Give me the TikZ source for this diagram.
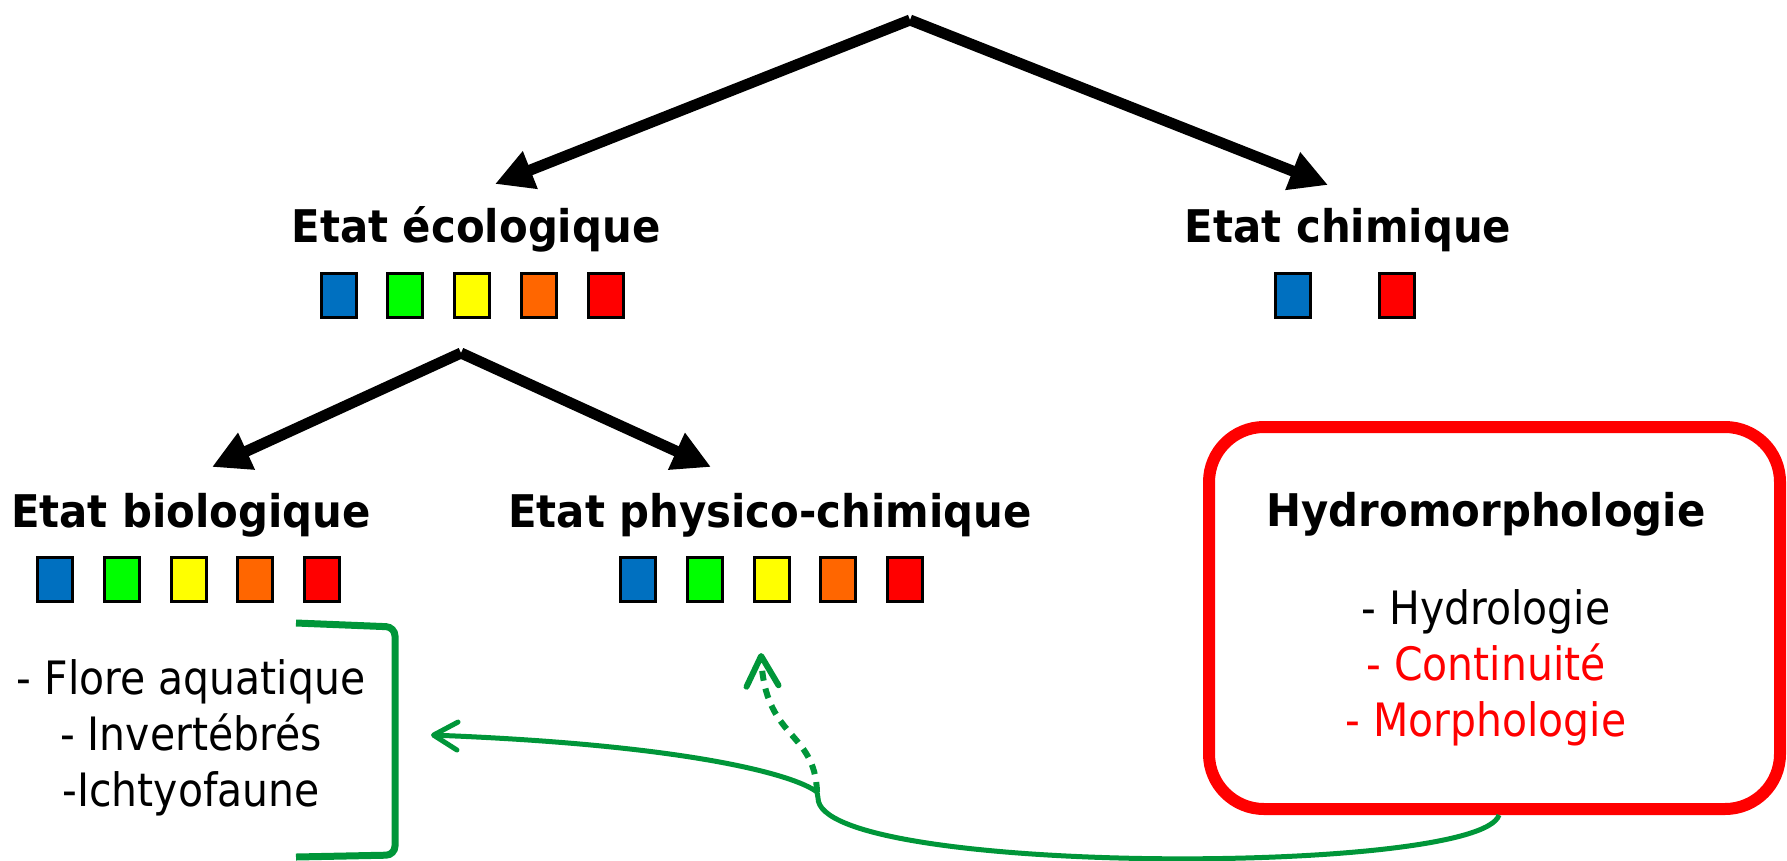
\documentclass[tikz,border=0pt]{standalone}
\usepackage{fontspec}
\setmainfont{DejaVu Sans}[FakeStretch=0.89]
\newfontfamily\hdfont{DejaVu Sans}[FakeStretch=0.93]
\usetikzlibrary{arrows.meta}
\definecolor{cblue}{HTML}{0070C0}
\definecolor{cgreen}{HTML}{00FF00}
\definecolor{cyellow}{HTML}{FFFF00}
\definecolor{corange}{HTML}{FF6600}
\definecolor{cred}{HTML}{FF0000}
\definecolor{dgreen}{RGB}{0,150,57}
\begin{document}
\begin{tikzpicture}[x=1pt,y=-1pt,
  title/.style={font=\hdfont\bfseries\fontsize{45}{50}\selectfont, anchor=base, inner sep=0pt},
  item/.style={font=\fontsize{46}{52}\selectfont, anchor=base, inner sep=0pt},
  sq/.style={draw=black, line width=3pt, minimum width=35pt, minimum height=44pt, inner sep=0pt, outer sep=0pt},
  bigarrow/.style={line width=11pt, -{Triangle[length=38pt,width=38pt]}},
  gline/.style={draw=dgreen, line width=5pt},
  brk/.style={draw=dgreen, line width=7pt, rounded corners=9pt}]
\useasboundingbox (0,0) rectangle (1787,860);

% titles
\node[title] (eco) at (476,242) {Etat écologique};
\node[title] (chem) at (1348,242) {Etat chimique};
\node[title] (bio) at (191,527) {Etat biologique};
\node[title] (phys) at (770,527) {Etat physico-chimique};

% squares
\foreach \c [count=\i] in {cblue,cgreen,cyellow,corange,cred}{
  \node[sq, fill=\c] (ecosq\i) at ({338.5+66.75*(\i-1)},295) {};
  \node[sq, fill=\c] (biosq\i) at ({55+66.75*(\i-1)},579.5) {};
  \node[sq, fill=\c] (physq\i) at ({638+66.75*(\i-1)},579.5) {};
}
\node[sq, fill=cblue] (chemsq1) at (1293,295) {};
\node[sq, fill=cred] (chemsq2) at (1397,295) {};

% tree arrows
\coordinate (top) at (910,20);
\coordinate (ecotip) at (495,184);
\coordinate (chemtip) at (1328,185);
\coordinate (mid) at (461,353);
\coordinate (biotip) at (212,467);
\coordinate (phystip) at (711,467);
\draw[bigarrow] (top) -- (ecotip);
\draw[bigarrow] (top) -- (chemtip);
\draw[bigarrow] (mid) -- (biotip);
\draw[bigarrow] (mid) -- (phystip);

% hydromorphologie box
\node[draw=cred, line width=12pt, rounded corners=55pt, minimum width=571pt,
      minimum height=382pt, inner sep=0pt] (hbox) at (1494.5,618) {};
\node[title] (hydro) at (1486,526) {Hydromorphologie};
\node[item] (h1) at (1486,624) {- Hydrologie};
\node[item, text=cred] (h2) at (1486,680) {- Continuité};
\node[item, text=cred] (h3) at (1486,736) {- Morphologie};

% biological list
\node[item] (b1) at (191,694) {- Flore aquatique};
\node[item] (b2) at (191,750) {- Invertébrés};
\node[item] (b3) at (191,806) {-Ichtyofaune};

% bracket
\draw[brk] (296,623) -- (395,627) -- (395,855) -- (296,857);

% green connectors
\coordinate (gs) at ([xshift=4.5pt]hbox.south);
\coordinate (kink) at (817,792);
\coordinate (gtip) at (431,735);
\coordinate (ptip) at (761,653);
\draw[gline, -{Straight Barb[length=24pt,width=28pt,round]}]
  (gs) .. controls (1480,876) and (818,876) .. (818,798) -- (kink)
  .. controls (795,775) and (690,745) .. (gtip);
\draw[draw=dgreen, line width=6pt, dash pattern=on 10pt off 8pt,
      -{Straight Barb[length=30pt,width=32pt,round]}]
  (kink) .. controls (815,730) and (765,740) .. (ptip);
\end{tikzpicture}
\end{document}
